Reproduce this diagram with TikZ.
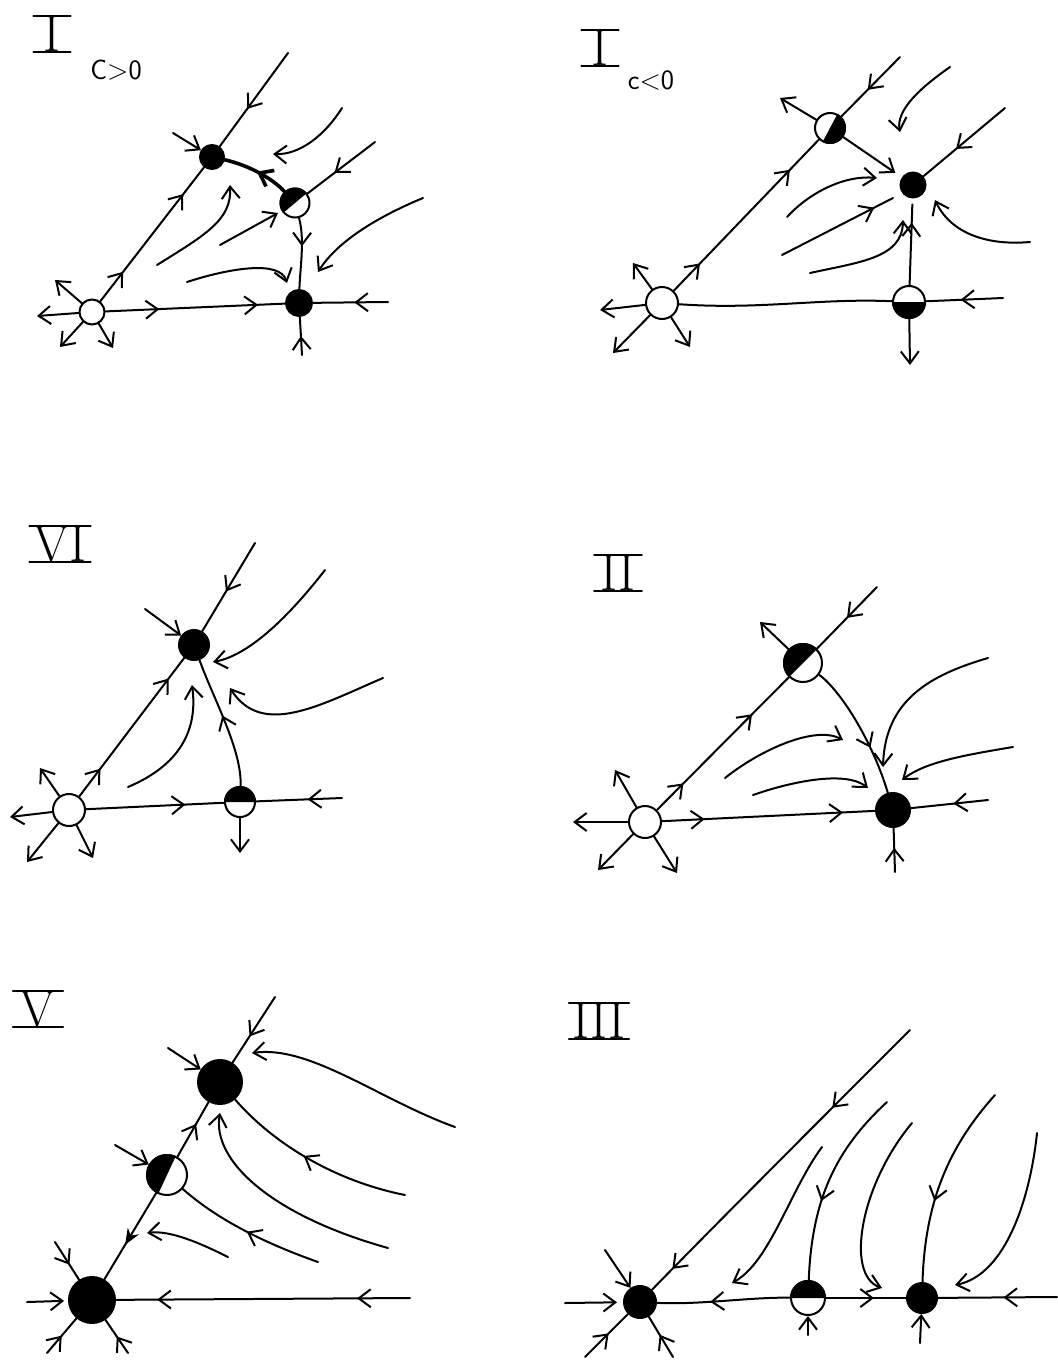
\documentclass[tikz,border=0pt]{standalone}
\usetikzlibrary{arrows.meta,decorations.markings,calc}
\newcommand\halffill[3]{\fill[black] ([shift={(#2:#3)}]#1.center) \foreach \a [evaluate=\a as \b using #2+\a] in {10,20,...,180}{ -- ([shift={(\b:#3)}]#1.center)} -- cycle;}
\begin{document}
\begin{tikzpicture}[x=1pt,y=-1pt,
  >={Straight Barb[length=12pt,width=18pt]},
  ln/.style={line width=2pt,line cap=round,line join=round},
  thickln/.style={line width=3.6pt,line cap=round},
  endarr/.style={->},
  ma/.style={postaction={decorate,decoration={markings,mark=at position #1 with {\arrow{>}}}}},
  mab/.style={postaction={decorate,decoration={markings,mark=at position #1 with {\arrow{Stealth[length=16pt,width=13pt]}}}}},
  unst/.style={circle,draw,fill=white,line width=2pt,inner sep=0pt},
  stab/.style={circle,draw,fill=black,line width=2pt,inner sep=0pt},
  halfnode/.style={circle,draw,fill=white,line width=2pt,inner sep=0pt},
  numeral/.style={font=\fontsize{52}{52}\selectfont, inner sep=0pt},
  cond/.style={font=\sffamily\fontsize{28}{28}\selectfont, inner sep=0pt},
  bar/.style={line width=2pt,line cap=round}
]
\fill[white] (0,0) rectangle (1057,1362);
\useasboundingbox (0,0) rectangle (1057,1362);

% ---------------- labels
\node[numeral] (L1) at (52,34) {I};
\draw[bar] ([xshift=-10pt]L1.north west) -- ([xshift=10pt]L1.north east);
\draw[bar] ([xshift=-10pt]L1.south west) -- ([xshift=10pt]L1.south east);
\node[cond] (L1c) at (116,70) {C>0};
\node[numeral] (L2) at (600,48) {I};
\draw[bar] ([xshift=-10pt]L2.north west) -- ([xshift=10pt]L2.north east);
\draw[bar] ([xshift=-10pt]L2.south west) -- ([xshift=10pt]L2.south east);
\node[cond] (L2c) at (651,80) {c<0};
\node[numeral] (L3) at (60,544) {VI};
\draw[bar] ([xshift=-4pt]L3.north west) -- ([xshift=4pt]L3.north east);
\draw[bar] ([xshift=-4pt]L3.south west) -- ([xshift=4pt]L3.south east);
\node[numeral] (L4) at (618,573) {II};
\draw[bar] ([xshift=-6pt]L4.north west) -- ([xshift=6pt]L4.north east);
\draw[bar] ([xshift=-6pt]L4.south west) -- ([xshift=6pt]L4.south east);
\node[numeral] (L5) at (38,1009) {V};
\draw[bar] ([xshift=-7pt]L5.north west) -- ([xshift=7pt]L5.north east);
\draw[bar] ([xshift=-7pt]L5.south west) -- ([xshift=7pt]L5.south east);
\node[numeral] (L6) at (599,1021) {III};
\draw[bar] ([xshift=-3pt]L6.north west) -- ([xshift=3pt]L6.north east);
\draw[bar] ([xshift=-3pt]L6.south west) -- ([xshift=3pt]L6.south east);

% ---------------- Panel I, c>0
\node[unst,minimum size=25pt] (A1u) at (92,312) {};
\node[stab,minimum size=24pt] (A1t) at (212,157) {};
\node[halfnode,minimum size=29pt] (A1s) at (295,203) {};
\halffill{A1s}{40}{15.5pt}
\node[stab,minimum size=26pt] (A1b) at (299,303) {};
\coordinate (A1p1) at (288,53);
\coordinate (A1p2) at (173,133);
\coordinate (A1p3) at (375,142);
\coordinate (A1q1) at (37,316);
\coordinate (A1q2) at (388,302);
\coordinate (A1q3) at (302,355);
\coordinate (A1q4) at (55,280);
\coordinate (A1q5) at (60,347);
\coordinate (A1q6) at (113,348);
\coordinate (A1c1a) at (342,108); \coordinate (A1c1b) at (273,154);
\coordinate (A1c2a) at (423,198); \coordinate (A1c2b) at (318,272);
\coordinate (A1c3a) at (157,265); \coordinate (A1c3b) at (230,185);
\coordinate (A1c4a) at (220,245); \coordinate (A1c4b) at (278,213);
\coordinate (A1c5a) at (187,282); \coordinate (A1c5b) at (287,283);
\draw[ln,ma=0.22,ma=0.8] (A1u) -- (A1t);
\draw[ln,ma=0.6] (A1p1) -- (A1t);
\draw[ln,endarr] (A1p2) -- (A1t);
\draw[thickln,ma=0.5] (A1s) .. controls (272,178) and (248,165) .. (A1t);
\draw[ln,ma=0.4] (A1s) .. controls (305,240) and (300,268) .. (A1b);
\draw[ln,ma=0.6] (A1p3) -- (A1s);
\draw[ln,endarr] (A1u) -- (A1q1);
\draw[ln,ma=0.3,ma=0.85] (A1u) -- (A1b);
\draw[ln,ma=0.45] (A1q2) -- (A1b);
\draw[ln,ma=0.5] (A1q3) -- (A1b);
\draw[ln,endarr] (A1u) -- (A1q4);
\draw[ln,endarr] (A1u) -- (A1q5);
\draw[ln,endarr] (A1u) -- (A1q6);
\draw[ln,endarr] (A1c1a) .. controls (325,135) and (300,155) .. (A1c1b);
\draw[ln,endarr] (A1c2a) .. controls (370,220) and (335,245) .. (A1c2b);
\draw[ln,endarr] (A1c3a) .. controls (205,235) and (232,220) .. (A1c3b);
\draw[ln,endarr] (A1c4a) -- (A1c4b);
\draw[ln,endarr] (A1c5a) .. controls (230,268) and (280,260) .. (A1c5b);

% ---------------- Panel I, c<0
\node[unst,minimum size=32pt] (B2u) at (662,303) {};
\node[halfnode,minimum size=30pt] (B2s) at (830,128) {};
\halffill{B2s}{-118}{16pt}
\node[stab,minimum size=25pt] (B2n) at (913,185) {};
\node[halfnode,minimum size=32pt] (B2b) at (909,302) {};
\halffill{B2b}{180}{17pt}
\coordinate (B2p1) at (900,57);
\coordinate (B2p2) at (780,98);
\coordinate (B2p3) at (1005,108);
\coordinate (B2p4) at (1003,298);
\coordinate (B2p5) at (910,365);
\coordinate (B2q1) at (600,310);
\coordinate (B2q2) at (633,263);
\coordinate (B2q3) at (613,353);
\coordinate (B2q4) at (690,347);
\coordinate (B2c1a) at (950,67);  \coordinate (B2c1b) at (900,132);
\coordinate (B2c2a) at (1030,242); \coordinate (B2c2b) at (935,200);
\coordinate (B2c3a) at (787,217); \coordinate (B2c3b) at (877,178);
\coordinate (B2c4a) at (782,255); \coordinate (B2c4b) at (893,198);
\coordinate (B2c5a) at (810,273); \coordinate (B2c5b) at (903,220);
\draw[ln,ma=0.18,ma=0.8] (B2u) -- (B2s);
\draw[ln,ma=0.55] (B2p1) -- (B2s);
\draw[ln,endarr] (B2s) -- (B2p2);
\draw[ln,endarr,shorten >=8pt] (B2s) -- (B2n);
\draw[ln,ma=0.6] (B2p3) -- (B2n);
\draw[ln,endarr] (B2c1a) .. controls (920,88) and (896,110) .. (B2c1b);
\draw[ln,endarr] (B2c2a) .. controls (985,246) and (950,232) .. (B2c2b);
\draw[ln,endarr] (B2c3a) .. controls (810,192) and (845,175) .. (B2c3b);
\draw[ln,ma=0.83] (B2c4a) -- (B2c4b);
\draw[ln,endarr] (B2c5a) .. controls (860,262) and (902,258) .. (B2c5b);
\draw[ln,ma=0.72,shorten >=6pt] (B2b) -- (B2n);
\draw[ln,ma=0.55] (B2p4) -- (B2b);
\draw[ln,endarr] (B2b) -- (B2p5);
\draw[ln] (B2u) .. controls (760,310) and (820,298) .. (B2b);
\draw[ln,endarr] (B2u) -- (B2q1);
\draw[ln,endarr] (B2u) -- (B2q2);
\draw[ln,endarr] (B2u) -- (B2q3);
\draw[ln,endarr] (B2u) -- (B2q4);

% ---------------- Panel VI
\node[unst,minimum size=32pt] (C3u) at (69,810) {};
\node[stab,minimum size=30pt] (C3t) at (194,645) {};
\node[halfnode,minimum size=30pt] (C3s) at (240,802) {};
\halffill{C3s}{0}{16pt}
\coordinate (C3p1) at (255,543);
\coordinate (C3p2) at (145,609);
\coordinate (C3q1) at (342,798);
\coordinate (C3q2) at (240,853);
\coordinate (C3q3) at (10,817);
\coordinate (C3q4) at (40,768);
\coordinate (C3q5) at (27,862);
\coordinate (C3q6) at (93,858);
\coordinate (C3c1a) at (325,570); \coordinate (C3c1b) at (213,662);
\coordinate (C3c2a) at (383,678); \coordinate (C3c2b) at (230,688);
\coordinate (C3c3a) at (128,787); \coordinate (C3c3b) at (192,685);
\draw[ln,ma=0.2,ma=0.85] (C3u) -- (C3t);
\draw[ln,ma=0.55] (C3p1) -- (C3t);
\draw[ln,endarr] (C3p2) -- (C3t);
\draw[ln,ma=0.55] (C3s) .. controls (242,750) and (214,700) .. (C3t);
\draw[ln,endarr] (C3c1a) .. controls (290,615) and (250,655) .. (C3c1b);
\draw[ln,endarr] (C3c2a) .. controls (320,705) and (262,738) .. (C3c2b);
\draw[ln,endarr] (C3c3a) .. controls (180,765) and (198,730) .. (C3c3b);
\draw[ln,ma=0.72] (C3u) -- (C3s);
\draw[ln,ma=0.4] (C3q1) -- (C3s);
\draw[ln,endarr] (C3s) -- (C3q2);
\draw[ln,endarr] (C3u) -- (C3q3);
\draw[ln,endarr] (C3u) -- (C3q4);
\draw[ln,endarr] (C3u) -- (C3q5);
\draw[ln,endarr] (C3u) -- (C3q6);

% ---------------- Panel II
\node[unst,minimum size=32pt] (D4u) at (645,822) {};
\node[halfnode,minimum size=38pt] (D4s) at (803,663) {};
\halffill{D4s}{45}{20pt}
\node[stab,minimum size=34pt] (D4n) at (893,810) {};
\coordinate (D4p1) at (877,587);
\coordinate (D4p2) at (760,622);
\coordinate (D4q1) at (988,800);
\coordinate (D4q2) at (895,872);
\coordinate (D4q3) at (573,822);
\coordinate (D4q4) at (615,770);
\coordinate (D4q5) at (598,870);
\coordinate (D4q6) at (677,873);
\coordinate (D4c1a) at (988,658);  \coordinate (D4c1b) at (883,767);
\coordinate (D4c2a) at (1013,747); \coordinate (D4c2b) at (902,780);
\coordinate (D4c3a) at (725,778);  \coordinate (D4c3b) at (843,740);
\coordinate (D4c4a) at (753,795);  \coordinate (D4c4b) at (868,788);
\draw[ln,ma=0.2,ma=0.72] (D4u) -- (D4s);
\draw[ln,ma=0.5] (D4p1) -- (D4s);
\draw[ln,endarr] (D4s) -- (D4p2);
\draw[ln,ma=0.65] (D4s) .. controls (840,690) and (872,740) .. (D4n);
\draw[ln,endarr] (D4c1a) .. controls (930,675) and (885,700) .. (D4c1b);
\draw[ln,endarr] (D4c2a) .. controls (965,755) and (925,762) .. (D4c2b);
\draw[ln,endarr] (D4c3a) .. controls (760,750) and (815,725) .. (D4c3b);
\draw[ln,endarr] (D4c4a) .. controls (790,782) and (845,770) .. (D4c4b);
\draw[ln,ma=0.2,ma=0.85] (D4u) -- (D4n);
\draw[ln,ma=0.45] (D4q1) -- (D4n);
\draw[ln,ma=0.55] (D4q2) -- (D4n);
\draw[ln,endarr] (D4u) -- (D4q3);
\draw[ln,endarr] (D4u) -- (D4q4);
\draw[ln,endarr] (D4u) -- (D4q5);
\draw[ln,endarr] (D4u) -- (D4q6);

% ---------------- Panel V
\node[stab,minimum size=46pt] (E5b) at (92,1300) {};
\node[halfnode,minimum size=40pt] (E5s) at (167,1175) {};
\halffill{E5s}{65}{21pt}
\node[stab,minimum size=44pt] (E5t) at (220,1082) {};
\coordinate (E5p1) at (275,997);
\coordinate (E5p2) at (168,1048);
\coordinate (E5p3) at (115,1145);
\coordinate (E5q1) at (410,1298);
\coordinate (E5q2) at (27,1302);
\coordinate (E5q3) at (47,1353);
\coordinate (E5q4) at (128,1353);
\coordinate (E5q5) at (55,1242);
\coordinate (E5c1a) at (455,1127); \coordinate (E5c1b) at (252,1053);
\coordinate (E5c2a) at (405,1195);
\coordinate (E5c3a) at (388,1248); \coordinate (E5c3b) at (220,1113);
\coordinate (E5c4a) at (318,1262);
\coordinate (E5c5a) at (228,1257); \coordinate (E5c5b) at (147,1233);
\draw[ln,ma=0.6] (E5s) -- (E5t);
\draw[ln,mab=0.6] (E5s) -- (E5b);
\draw[ln,ma=0.6] (E5p1) -- (E5t);
\draw[ln,endarr] (E5p2) -- (E5t);
\draw[ln,endarr] (E5p3) -- (E5s);
\draw[ln,endarr] (E5c1a) .. controls (380,1100) and (310,1045) .. (E5c1b);
\draw[ln,ma=0.55] (E5c2a) .. controls (330,1180) and (270,1140) .. (E5t);
\draw[ln,endarr] (E5c3a) .. controls (270,1215) and (212,1160) .. (E5c3b);
\draw[ln,ma=0.5] (E5c4a) .. controls (270,1245) and (220,1222) .. (E5s);
\draw[ln,endarr] (E5c5a) .. controls (200,1243) and (170,1230) .. (E5c5b);
\draw[ln,ma=0.18,ma=0.86] (E5q1) -- (E5b);
\draw[ln,endarr,shorten >=4pt] (E5q2) -- (E5b);
\draw[ln,ma=0.5] (E5q3) -- (E5b);
\draw[ln,ma=0.5] (E5q4) -- (E5b);
\draw[ln,ma=0.6] (E5q5) -- (E5b);

% ---------------- Panel III
\node[stab,minimum size=32pt] (F6l) at (640,1302) {};
\node[halfnode,minimum size=34pt] (F6s) at (808,1298) {};
\halffill{F6s}{0}{18pt}
\node[stab,minimum size=30pt] (F6r) at (922,1298) {};
\coordinate (F6p1) at (910,1030);
\coordinate (F6q1) at (605,1250);
\coordinate (F6q2) at (565,1303);
\coordinate (F6q3) at (585,1357);
\coordinate (F6q4) at (673,1357);
\coordinate (F6q5) at (1057,1297);
\coordinate (F6q6) at (808,1335);
\coordinate (F6q7) at (920,1343);
\coordinate (F6c1a) at (822,1147); \coordinate (F6c1b) at (732,1283);
\coordinate (F6c2a) at (887,1102);
\coordinate (F6c3a) at (912,1123); \coordinate (F6c3b) at (882,1288);
\coordinate (F6c4a) at (995,1095);
\coordinate (F6c5a) at (1037,1133); \coordinate (F6c5b) at (955,1285);
\draw[ln,ma=0.3,ma=0.92] (F6p1) .. controls (840,1100) and (720,1220) .. (F6l);
\draw[ln,endarr] (F6q1) -- (F6l);
\draw[ln,endarr,shorten >=6pt] (F6q2) -- (F6l);
\draw[ln,ma=0.55] (F6q3) -- (F6l);
\draw[ln,ma=0.55] (F6q4) -- (F6l);
\draw[ln,ma=0.6] (F6s) .. controls (750,1297) and (700,1305) .. (F6l);
\draw[ln,ma=0.6] (F6s) -- (F6r);
\draw[ln,ma=0.45] (F6q5) -- (F6r);
\draw[ln,endarr] (F6q6) -- (F6s);
\draw[ln,endarr] (F6q7) -- (F6r);
\draw[ln,endarr] (F6c1a) .. controls (790,1190) and (770,1262) .. (F6c1b);
\draw[ln,ma=0.6] (F6c2a) .. controls (835,1150) and (812,1200) .. (F6s);
\draw[ln,endarr] (F6c3a) .. controls (860,1185) and (845,1275) .. (F6c3b);
\draw[ln,ma=0.6] (F6c4a) .. controls (950,1145) and (925,1200) .. (F6r);
\draw[ln,endarr] (F6c5a) .. controls (1030,1200) and (1005,1275) .. (F6c5b);
\end{tikzpicture}
\end{document}
